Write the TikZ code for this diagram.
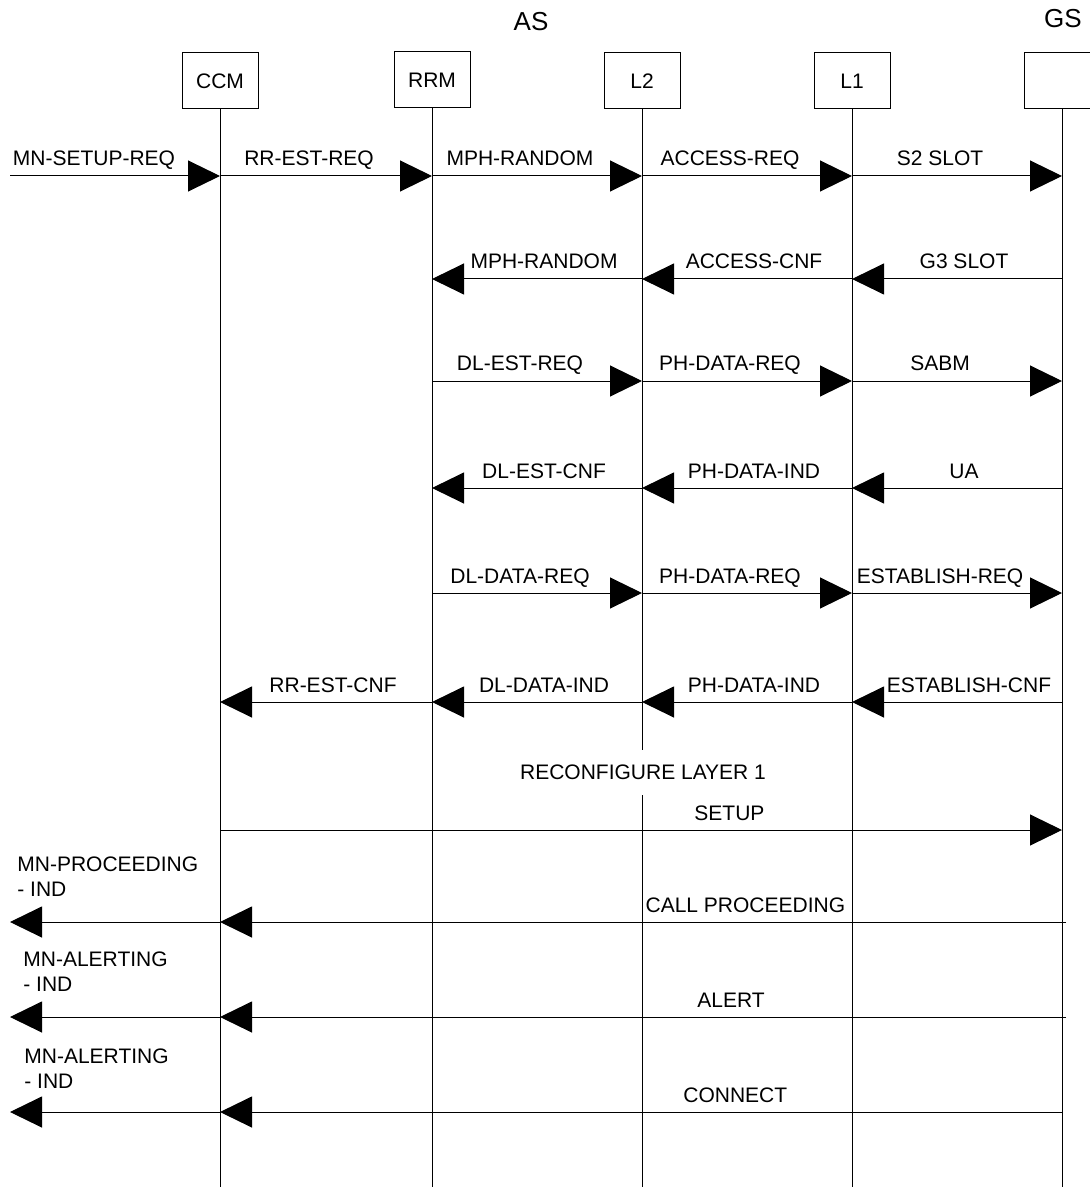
\documentclass[tikz,border=0pt]{standalone}
\usepackage{fontspec}
\setmainfont{Liberation Sans}
\usetikzlibrary{arrows.meta}

\begin{document}
\begin{tikzpicture}[
x=0.5pt, y=-0.5pt,
every node/.style={font=\fontsize{10.5}{12.5}\selectfont},
head/.style={font=\fontsize{13}{15}\selectfont},
lifebox/.style={draw, line width=0.5pt, minimum width=38pt, minimum height=28pt, inner sep=0pt},
life/.style={line width=0.5pt},
msg/.style={line width=0.5pt, -{Triangle[length=16pt, width=15.5pt]}},
tor/.style={midway, anchor=base, yshift=5pt, xshift=-8.5pt},
tol/.style={midway, anchor=base, yshift=5pt, xshift=3.5pt},
lbl/.style={anchor=base, yshift=5pt},
mnlbl/.style={align=left, anchor=south west, inner sep=0pt}
]
\useasboundingbox (0,0) rectangle (1090,1187);

% groups and entities
\node[head] (as) at (531,22) {AS};
\node[head] (gstitle) at (1063,19) {GS};
\node[lifebox] (ccm) at (220,81) {CCM};
\node[lifebox] (rrm) at (432,80) {RRM};
\node[lifebox] (l2) at (642,81) {L2};
\node[lifebox] (l1) at (852,81) {L1};
\node[lifebox] (gs) at (1062,81) {};

\coordinate (bottom) at (0,1187);
\coordinate (ext) at (10,0);
\coordinate (gsx) at (1066,0);
\foreach \n in {ccm,rrm,l2,l1,gs}
  \draw[life] (\n.south) -- (\n.south |- bottom);

% message rows
\coordinate (r1) at (0,176);
\coordinate (r2) at (0,279);
\coordinate (r3) at (0,381);
\coordinate (r4) at (0,488);
\coordinate (r5) at (0,593);
\coordinate (r6) at (0,702);
\coordinate (r7) at (0,830);
\coordinate (r8) at (0,922);
\coordinate (r9) at (0,1017);
\coordinate (r10) at (0,1112);

\draw[msg] (ext |- r1) -- node[tor, xshift=-2pt] {MN-SETUP-REQ} (ccm |- r1);
\draw[msg] (ccm |- r1) -- node[tor] {RR-EST-REQ} (rrm |- r1);
\draw[msg] (rrm |- r1) -- node[tor] {MPH-RANDOM} (l2 |- r1);
\draw[msg] (l2 |- r1) -- node[tor] {ACCESS-REQ} (l1 |- r1);
\draw[msg] (l1 |- r1) -- node[tor] {S2 SLOT} (gs |- r1);

\draw[msg] (gs |- r2) -- node[tol] {G3 SLOT} (l1 |- r2);
\draw[msg] (l1 |- r2) -- node[tol] {ACCESS-CNF} (l2 |- r2);
\draw[msg] (l2 |- r2) -- node[tol] {MPH-RANDOM} (rrm |- r2);

\draw[msg] (rrm |- r3) -- node[tor] {DL-EST-REQ} (l2 |- r3);
\draw[msg] (l2 |- r3) -- node[tor] {PH-DATA-REQ} (l1 |- r3);
\draw[msg] (l1 |- r3) -- node[tor] {SABM} (gs |- r3);

\draw[msg] (gs |- r4) -- node[tol] {UA} (l1 |- r4);
\draw[msg] (l1 |- r4) -- node[tol] {PH-DATA-IND} (l2 |- r4);
\draw[msg] (l2 |- r4) -- node[tol] {DL-EST-CNF} (rrm |- r4);

\draw[msg] (rrm |- r5) -- node[tor] {DL-DATA-REQ} (l2 |- r5);
\draw[msg] (l2 |- r5) -- node[tor] {PH-DATA-REQ} (l1 |- r5);
\draw[msg] (l1 |- r5) -- node[tor] {ESTABLISH-REQ} (gs |- r5);

\draw[msg] (gs |- r6) -- node[tol, xshift=2.5pt] {ESTABLISH-CNF} (l1 |- r6);
\draw[msg] (l1 |- r6) -- node[tol] {PH-DATA-IND} (l2 |- r6);
\draw[msg] (l2 |- r6) -- node[tol] {DL-DATA-IND} (rrm |- r6);
\draw[msg] (rrm |- r6) -- node[tol] {RR-EST-CNF} (ccm |- r6);

\node[fill=white, minimum height=22.5pt, inner xsep=1pt] (reconf) at (643,772) {RECONFIGURE LAYER 1};

\draw[msg] (ccm |- r7) -- node[lbl, pos=0.605] {SETUP} (gs |- r7);

\draw[msg] (gsx |- r8) -- node[lbl, pos=0.379] {CALL PROCEEDING} (ccm |- r8);
\draw[msg] (ccm |- r8) -- (ext |- r8);
\node[mnlbl] (mnproc) at (17,897) {MN-PROCEEDING\\- IND};

\draw[msg] (gsx |- r9) -- node[lbl, pos=0.396] {ALERT} (ccm |- r9);
\draw[msg] (ccm |- r9) -- (ext |- r9);
\node[mnlbl] (mnalert) at (23,992) {MN-ALERTING\\- IND};

\draw[msg] (gs |- r10) -- node[lbl, pos=0.388] {CONNECT} (ccm |- r10);
\draw[msg] (ccm |- r10) -- (ext |- r10);
\node[mnlbl] (mnconn) at (24,1089) {MN-ALERTING\\- IND};
\end{tikzpicture}
\end{document}
